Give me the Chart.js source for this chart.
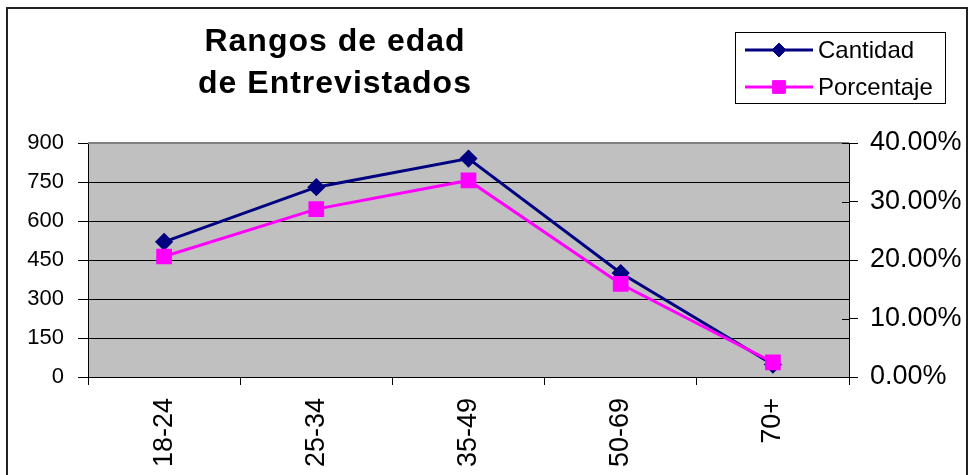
<!DOCTYPE html>
<html>
<head>
<meta charset="utf-8">
<title>Rangos de edad de Entrevistados</title>
<script src="https://cdn.jsdelivr.net/npm/chart.js@4.4.1/dist/chart.umd.min.js"></script>
<style>
  html, body { margin: 0; padding: 0; background: #fff; }
  canvas { display: block; }
</style>
</head>
<body>
<canvas id="ageChart" width="969" height="475"></canvas>
<script>
// chart data
const categories = ['18-24', '25-34', '35-49', '50-69', '70+'];
const cantidad = [520, 730, 840, 400, 48];
const porcentaje = [20.6, 28.7, 33.6, 15.9, 2.5];   // in %
const titleLines = ['Rangos de edad', 'de Entrevistados'];
const leftTicks = [0, 150, 300, 450, 600, 750, 900];
const rightTicks = [0, 10, 20, 30, 40];

const FONT = 'Liberation Sans, Arial, sans-serif';

// frame, plot background, title and legend box
const excelLook = {
  id: 'excelLook',
  beforeDraw(chart) {
    const ctx = chart.ctx;
    const a = chart.chartArea;
    ctx.save();
    ctx.fillStyle = '#c0c0c0';
    ctx.fillRect(a.left, a.top, a.right - a.left, a.bottom - a.top);
    ctx.restore();
  },
  afterDraw(chart) {
    const ctx = chart.ctx;
    const a = chart.chartArea;
    ctx.save();

    // grey top edge of plot area
    ctx.strokeStyle = '#808080';
    ctx.lineWidth = 2;
    ctx.beginPath();
    ctx.moveTo(a.left, a.top);
    ctx.lineTo(a.right, a.top);
    ctx.stroke();

    // right axis ticks cross the axis line
    const y1 = chart.scales.y1;
    ctx.strokeStyle = '#000';
    ctx.lineWidth = 1;
    y1.ticks.forEach(t => {
      const py = Math.round(y1.getPixelForValue(t.value)) + 0.5;
      ctx.beginPath();
      ctx.moveTo(a.right - 7, py);
      ctx.lineTo(a.right, py);
      ctx.stroke();
    });

    // outer frame
    ctx.strokeStyle = '#222';
    ctx.lineWidth = 2;
    ctx.strokeRect(7, 8, 960, 480);

    // title
    ctx.fillStyle = '#000';
    ctx.font = 'bold 32px ' + FONT;
    ctx.textAlign = 'center';
    ctx.textBaseline = 'alphabetic';
    ctx.letterSpacing = '1px';
    ctx.fillText(titleLines[0], 335, 51);
    ctx.fillText(titleLines[1], 335, 93);
    ctx.letterSpacing = '0px';

    // legend
    ctx.fillStyle = '#fff';
    ctx.fillRect(735, 32, 211, 72);
    ctx.strokeStyle = '#000';
    ctx.lineWidth = 1;
    ctx.strokeRect(735.5, 32.5, 210, 71);
    const rows = [50, 87];
    chart.data.datasets.forEach((ds, i) => {
      const y = rows[i];
      ctx.strokeStyle = ds.borderColor;
      ctx.lineWidth = ds.borderWidth;
      ctx.beginPath();
      ctx.moveTo(745, y);
      ctx.lineTo(813, y);
      ctx.stroke();
      ctx.fillStyle = ds.pointBackgroundColor;
      ctx.strokeStyle = ds.pointBorderColor;
      ctx.lineWidth = 1;
      Chart.helpers.drawPoint(ctx, { pointStyle: ds.pointStyle, radius: ds.pointRadius, borderWidth: 1 }, 779, y);
      ctx.fillStyle = '#000';
      ctx.font = '24px ' + FONT;
      ctx.textAlign = 'left';
      ctx.textBaseline = 'middle';
      ctx.fillText(ds.label, 818, y + 1);
    });

    ctx.restore();
  }
};

const ctx = document.getElementById('ageChart').getContext('2d');

new Chart(ctx, {
  type: 'line',
  data: {
    labels: categories,
    datasets: [
      {
        label: 'Cantidad',
        data: cantidad,
        yAxisID: 'y',
        borderColor: '#000080',
        backgroundColor: '#000080',
        pointBackgroundColor: '#000080',
        pointBorderColor: '#000080',
        borderWidth: 3,
        pointStyle: 'rectRot',
        pointRadius: 7,
        tension: 0,
        order: 1
      },
      {
        label: 'Porcentaje',
        data: porcentaje,
        yAxisID: 'y1',
        borderColor: '#ff00ff',
        backgroundColor: '#ff00ff',
        pointBackgroundColor: '#ff00ff',
        pointBorderColor: '#ff00ff',
        borderWidth: 3,
        pointStyle: 'rect',
        pointRadius: 9,
        tension: 0,
        order: 0
      }
    ]
  },
  options: {
    responsive: false,
    animation: false,
    layout: { padding: { top: 143, left: 0, right: 0, bottom: 0 } },
    plugins: {
      legend: { display: false },
      tooltip: { enabled: false }
    },
    scales: {
      x: {
        offset: true,
        grid: { offset: true, drawOnChartArea: false, color: '#000', tickLength: 8 },
        border: { color: '#000', width: 1 },
        ticks: {
          color: '#000',
          minRotation: 90,
          maxRotation: 90,
          padding: 13,
          font: { family: FONT, size: 27 }
        },
        afterFit: s => { s.height = 98; }
      },
      y: {
        position: 'left',
        min: leftTicks[0],
        max: leftTicks[leftTicks.length - 1],
        afterBuildTicks: s => { s.ticks = leftTicks.map(v => ({ value: v })); },
        grid: { color: '#000', tickLength: 10 },
        border: { color: '#000', width: 1 },
        ticks: {
          color: '#000',
          padding: 14,
          font: { family: FONT, size: 22 }
        },
        afterFit: s => { s.width = 88; }
      },
      y1: {
        position: 'right',
        min: rightTicks[0],
        max: rightTicks[rightTicks.length - 1],
        afterBuildTicks: s => { s.ticks = rightTicks.map(v => ({ value: v })); },
        grid: { drawOnChartArea: false, color: '#000', tickLength: 9 },
        border: { color: '#000', width: 1 },
        ticks: {
          color: '#000',
          padding: 12,
          font: { family: FONT, size: 27 },
          callback: v => v.toFixed(2) + '%'
        },
        afterFit: s => { s.width = 120; }
      }
    }
  },
  plugins: [excelLook]
});
</script>
</body>
</html>
